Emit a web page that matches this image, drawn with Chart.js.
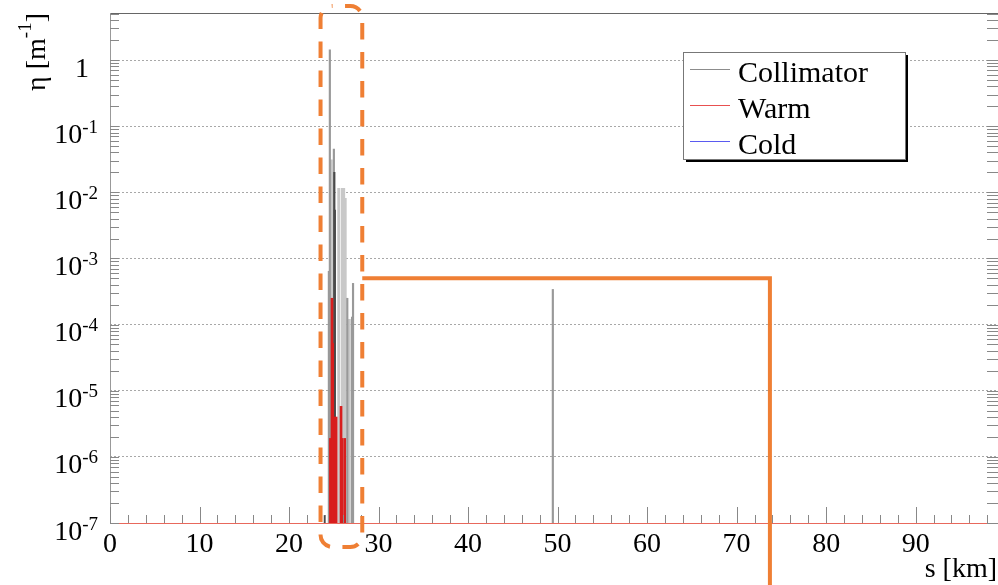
<!DOCTYPE html>
<html>
<head>
<meta charset="utf-8">
<script src="https://cdn.jsdelivr.net/npm/chart.js@4.4.0/dist/chart.umd.min.js"></script>
<style>
  html,body{margin:0;background:#fff}
  canvas{display:block}
</style>
</head>
<body>
<canvas id="lossMap" width="998" height="585"></canvas>
<script>
// ── axis ranges / ticks ────────────────────────────────────────
const S_MIN = 0, S_MAX = 99.2;          // km
const ETA_MIN = 1e-7, ETA_MAX = 5.14;   // m^-1
const xTickVals = [0,10,20,30,40,50,60,70,80,90];
const yDecades  = [-7,-6,-5,-4,-3,-2,-1,0];

// ── loss spikes (s in km, eta in m^-1) ────
// collimator, medium grey single spikes
const collS   = [24.45, 24.56, 25.01, 26.51, 27.04, 27.15, 49.47];
const collEta = [6.4e-4, 1.42, 0.045, 2.5e-4, 1.3e-4, 4.2e-4, 3.4e-4];
// collimator, dense clusters (light grey)
const collDenseS   = [24.72, 25.55, 25.94, 26.11, 26.28, 26.74];
const collDenseEta = [0.031, 0.0115, 0.0115, 0.0115, 0.0081, 1.2e-4];
// collimator, dark spikes
const collDarkS   = [24.00, 25.06, 25.12, 26.01];
const collDarkEta = [1.3e-7, 0.020, 0.0054, 1.2e-7];
// warm
const warmS   = [24.62, 24.80, 24.88, 25.08, 25.26, 25.81, 25.92, 26.22];
const warmEta = [1.9e-6, 2.5e-4, 5.2e-5, 4e-6, 4e-6, 5.8e-6, 1.9e-6, 1.9e-6];
// cold (nothing above the plotted minimum)
const coldS   = [];
const coldEta = [];

// highlighted region + level line
const ZOOM_S = [23.52, 28.18];
const LEVEL_ETA = 5e-4, LEVEL_S_END = 73.72;

const FONT = '"Liberation Serif","Times New Roman",serif';
const ORANGE = '#ef7f34';

function bars(s, eta){ return s.map((v,i)=>({x:v, y:[ETA_MIN, eta[i]]})); }

const legendItems = [
  {label:'Collimator', color:'#8c8c8c'},
  {label:'Warm',       color:'#e85050'},
  {label:'Cold',       color:'#5a5af0'}
];

// ═══════════════════════════════════════════════════════════════
// ROOT-like frame, ticks, labels, legend, annotation
// ═══════════════════════════════════════════════════════════════
const rootPlug = {
  id:'rootFrame',
  afterDraw(chart){
    const {ctx, chartArea:a, scales:{x,y}} = chart;
    const line=(x1,y1,x2,y2)=>{ ctx.beginPath(); ctx.moveTo(x1,y1); ctx.lineTo(x2,y2); ctx.stroke(); };
    ctx.save();
    ctx.lineWidth=1;

    // frame
    ctx.strokeStyle='#666'; line(a.left, a.top+0.5, a.right, a.top+0.5);
    ctx.strokeStyle='#999'; line(a.left+0.5, a.top, a.left+0.5, a.bottom);
    ctx.strokeStyle='#e8685c'; line(a.left, a.bottom+0.5, a.right, a.bottom+0.5);

    // x ticks (inward)
    ctx.strokeStyle='#888';
    for(let v=0; v<=S_MAX; v+=2){
      const px=Math.round(x.getPixelForValue(v))+0.5;
      line(px, a.bottom, px, a.bottom-(v%10===0?16:8));
    }
    // y ticks, both sides
    for(const d of yDecades){
      for(let m=1;m<=9;m++){
        const v=m*Math.pow(10,d);
        if(v>ETA_MAX) break;
        const py=Math.round(y.getPixelForValue(v))+0.5;
        line(a.left, py, a.left+9, py);
        line(a.right, py, a.right-11, py);
      }
    }

    // x labels
    ctx.fillStyle='#000';
    ctx.font=`28px ${FONT}`;
    ctx.textAlign='center';
    xTickVals.forEach(v=>ctx.fillText(String(v), x.getPixelForValue(v), a.bottom+29));

    // y labels 10^n
    yDecades.forEach(d=>{
      const py=y.getPixelForValue(Math.pow(10,d));
      if(d===0){
        ctx.font=`28px ${FONT}`; ctx.textAlign='right';
        ctx.fillText('1', a.left-21, py+17);
        return;
      }
      const sup=String(d);
      ctx.font=`19px ${FONT}`;
      const sw=ctx.measureText(sup).width;
      const right=a.left-12;
      ctx.font=`28px ${FONT}`; ctx.textAlign='right';
      ctx.fillText('10', right-sw, py+16.5);
      ctx.font=`19px ${FONT}`; ctx.textAlign='left';
      ctx.fillText(sup, right-sw, py+6.5);
    });

    // axis titles
    ctx.font=`28px ${FONT}`; ctx.textAlign='right';
    ctx.fillText('s [km]', a.right-1, 577);

    ctx.save();
    ctx.translate(45, a.top);
    ctx.rotate(-Math.PI/2);
    ctx.textAlign='left';
    const parts=[{t:'η [m',f:28,dy:0},{t:'-1',f:19,dy:-14},{t:']',f:28,dy:0}];
    let W=0;
    parts.forEach(p=>{ ctx.font=`${p.f}px ${FONT}`; p.w=ctx.measureText(p.t).width; W+=p.w; });
    let cx=-W;
    parts.forEach(p=>{ ctx.font=`${p.f}px ${FONT}`; ctx.fillText(p.t, cx, p.dy); cx+=p.w; });
    ctx.restore();

    // legend
    const lx=683, ly=52, lw=222, lh=107;
    ctx.fillStyle='#000'; ctx.fillRect(lx+3, ly+3, lw, lh);
    ctx.fillStyle='#fff'; ctx.fillRect(lx, ly, lw, lh);
    ctx.strokeStyle='#777'; ctx.strokeRect(lx+0.5, ly+0.5, lw, lh);
    ctx.font=`30px ${FONT}`; ctx.textAlign='left';
    legendItems.forEach((it,i)=>{
      const yy=ly+17+i*36;
      ctx.strokeStyle=it.color; line(690, yy+0.5, 730, yy+0.5);
      ctx.fillStyle='#000'; ctx.fillText(it.label, 738, yy+13);
    });

    // orange highlight box + level line
    const bl=x.getPixelForValue(ZOOM_S[0]), br=x.getPixelForValue(ZOOM_S[1]);
    const bt=a.top-7, bb=a.bottom+24;
    ctx.strokeStyle=ORANGE; ctx.lineWidth=4;
    ctx.setLineDash([16.5,12.5]); ctx.lineDashOffset=16.5;
    ctx.beginPath(); ctx.roundRect(bl, bt, br-bl, bb-bt, 12); ctx.stroke();
    ctx.setLineDash([]);
    const py=y.getPixelForValue(LEVEL_ETA), pe=x.getPixelForValue(LEVEL_S_END);
    ctx.beginPath(); ctx.moveTo(br, py); ctx.lineTo(pe, py); ctx.lineTo(pe, chart.height); ctx.stroke();

    ctx.restore();
  }
};

const common={grouped:false, borderWidth:0};
new Chart(document.getElementById('lossMap'), {
  type:'bar',
  plugins:[rootPlug],
  data:{
    datasets:[
      {...common, label:'Warm', data:bars(warmS,warmEta), backgroundColor:'#d81e1e', barThickness:2, order:0},
      {...common, label:'Collimator', data:bars(collDarkS,collDarkEta), backgroundColor:'#4a4a4a', barThickness:1.5, order:1},
      {...common, label:'Collimator', data:bars(collS,collEta), backgroundColor:'#999', barThickness:1.5, order:2},
      {...common, label:'Collimator', data:bars(collDenseS,collDenseEta), backgroundColor:'#c8c8c8', barThickness:2.2, order:3},
      {...common, label:'Cold', data:bars(coldS,coldEta), backgroundColor:'#3030d0', barThickness:1.5, order:4}
    ]
  },
  options:{
    responsive:false, animation:false, devicePixelRatio:1,
    layout:{padding:{left:110, top:13, right:0, bottom:62}},
    plugins:{legend:{display:false}, tooltip:{enabled:false}},
    scales:{
      x:{type:'linear', min:S_MIN, max:S_MAX, offset:false,
         grid:{display:false, drawTicks:false}, border:{display:false},
         ticks:{display:false}, afterFit(s){ s.height=0; }},
      y:{type:'logarithmic', min:ETA_MIN, max:ETA_MAX,
         grid:{drawTicks:false, lineWidth:1,
               color:c=>(c.tick && c.tick.value>ETA_MIN*1.01)?'#a8a8a8':'rgba(0,0,0,0)'},
         border:{display:false, dash:[2,2]},
         ticks:{display:false},
         afterBuildTicks(s){ s.ticks=yDecades.map(d=>({value:Math.pow(10,d)})); },
         afterFit(s){ s.width=0; }}
    }
  }
});
</script>
</body>
</html>
